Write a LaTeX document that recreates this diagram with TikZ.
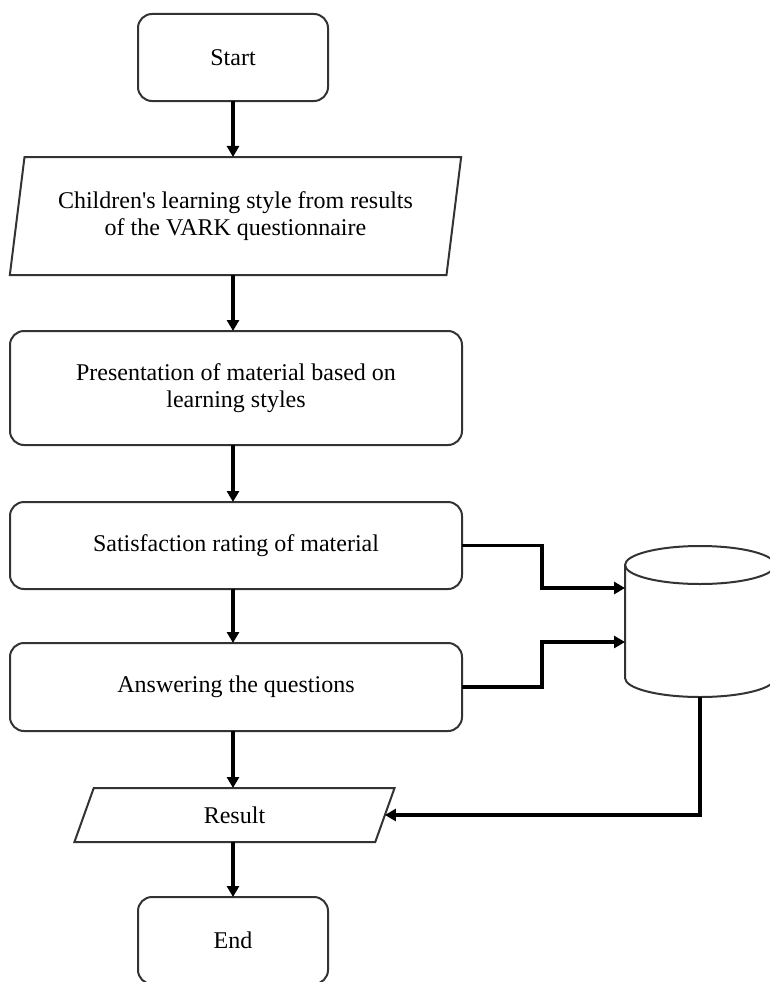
\documentclass[tikz,border=0pt]{standalone}
\usepackage{fontspec}
\setmainfont{Liberation Serif}[Ligatures=TeXOff]
\usetikzlibrary{shapes.geometric,arrows.meta}
\definecolor{boxgray}{HTML}{333333}
\begin{document}
\begin{tikzpicture}[x=1pt,y=-1pt,
  txt/.style={font=\fontsize{24}{27.5}\selectfont, align=center},
  procbox/.style={txt, draw=boxgray, line width=2pt, rounded corners=14pt, inner sep=0pt, outer sep=0pt},
  iobox/.style={txt, trapezium, trapezium left angle=76, trapezium right angle=104, trapezium stretches=true, draw=boxgray, line width=2pt, inner sep=0pt, outer sep=0pt},
  arr/.style={line width=3.2pt, -{Triangle[length=11pt,width=12pt]}}]
\useasboundingbox (0,0) rectangle (770,982);
\clip (0,0) rectangle (770,982);

\node[procbox, minimum width=190pt, minimum height=87pt] (start) at (233,57.5) {Start};
\node[iobox, minimum width=453pt, minimum height=118pt] (input) at (235.5,216) {Children's learning style from results\\of the VARK questionnaire};
\node[procbox, minimum width=452pt, minimum height=114pt] (pres) at (236,388) {Presentation of material based on\\learning styles};
\node[procbox, minimum width=452pt, minimum height=87pt] (sat) at (236,545.5) {Satisfaction rating of material};
\node[procbox, minimum width=452pt, minimum height=88pt] (ans) at (236,687) {Answering the questions};
\node[iobox, minimum width=321pt, minimum height=54pt] (res) at (234.5,815) {Result};
\node[procbox, minimum width=190pt, minimum height=87pt] (end) at (233,940.5) {End};

% database cylinder
\draw[draw=boxgray, line width=2pt, fill=white]
  (625,565) -- (625,678) arc[start angle=180, end angle=0, x radius=75, y radius=19]
  -- (775,565) arc[start angle=0, end angle=-180, x radius=75, y radius=19] -- cycle;
\draw[draw=boxgray, line width=2pt] (625,565) arc[start angle=180, end angle=0, x radius=75, y radius=19];
\coordinate (dbin1) at (625,588);
\coordinate (dbin2) at (625,642);
\coordinate (dbout) at (700,697);

\draw[arr] (start.south) -- (start.south |- input.north);
\draw[arr] (start.south |- input.south) -- (start.south |- pres.north);
\draw[arr] (start.south |- pres.south) -- (start.south |- sat.north);
\draw[arr] (start.south |- sat.south) -- (start.south |- ans.north);
\draw[arr] (start.south |- ans.south) -- (start.south |- res.north);
\draw[arr] (start.south |- res.south) -- (end.north);

\draw[arr] (sat.east) -- ++(80,0) |- (dbin1);
\draw[arr] (ans.east) -- ++(80,0) |- (dbin2);
\draw[arr] (dbout) |- (res.east);
\end{tikzpicture}
\end{document}
